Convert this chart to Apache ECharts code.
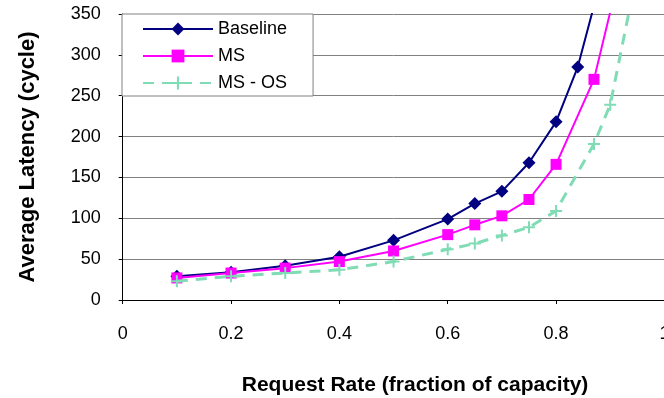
<!DOCTYPE html>
<html>
<head>
<meta charset="utf-8">
<script src="https://cdn.jsdelivr.net/npm/echarts@6/dist/echarts.min.js"></script>
<style>
  html, body { margin: 0; padding: 0; background: #fff; }
  #chart { width: 664px; height: 398px; }
</style>
</head>
<body>
<div id="chart"></div>
<script>
// request rate (fraction of capacity) and average latency (cycles)
const baselineX = [0.1, 0.2, 0.3, 0.4, 0.5, 0.6, 0.65, 0.7, 0.75, 0.8, 0.84, 0.88];
const baselineY = [29, 34, 42, 53, 73, 99, 118, 133, 168, 218, 285, 385];

const msX = [0.1, 0.2, 0.3, 0.4, 0.5, 0.6, 0.65, 0.7, 0.75, 0.8, 0.87, 0.91];
const msY = [27, 33, 39, 47, 60, 80, 92, 103, 123, 166, 270, 380];

const msosX = [0.1, 0.2, 0.3, 0.4, 0.5, 0.6, 0.65, 0.7, 0.75, 0.8, 0.87, 0.9, 0.94];
const msosY = [23, 29, 33, 37, 47, 62, 69, 79, 89, 109, 191, 239, 370];

const xTicks = [0, 0.2, 0.4, 0.6, 0.8, 1];
const yTicks = [0, 50, 100, 150, 200, 250, 300, 350];

const FONT = "'Liberation Sans', Arial, sans-serif";
const plusPath = 'path://M0,5H12V7H0Z M5,0H7V12H5Z';

const pairs = (xs, ys) => xs.map((x, i) => [x, ys[i]]);

const chart = echarts.init(document.getElementById('chart'));

const option = {
  animation: false,
  backgroundColor: '#fff',
  grid: { left: 122.7, right: -0.4, top: 14, bottom: 98, outerBoundsMode: 'none' },
  legend: {
    orient: 'vertical',
    left: 122,
    top: 14,
    padding: [6, 26, 4, 20],
    itemWidth: 70,
    itemHeight: 16,
    itemGap: 9,
    backgroundColor: '#fff',
    borderColor: '#808080',
    borderWidth: 1,
    textStyle: { fontFamily: FONT, fontSize: 18, color: '#000', lineHeight: 18 },
    data: ['Baseline', 'MS', 'MS - OS']
  },
  xAxis: {
    type: 'value',
    min: xTicks[0],
    max: xTicks[xTicks.length - 1],
    interval: 0.2,
    name: 'Request Rate (fraction of capacity)',
    nameLocation: 'middle',
    nameGap: 75,
    nameTextStyle: { fontFamily: FONT, fontSize: 21, fontWeight: 'bold', color: '#000', padding: [0, 0, 0, 43] },
    axisLine: { lineStyle: { color: '#000', width: 1 } },
    axisTick: { show: true, length: 4, lineStyle: { color: '#000' } },
    axisLabel: { fontFamily: FONT, fontSize: 18, color: '#000', margin: 25 },
    splitLine: { show: false }
  },
  yAxis: {
    type: 'value',
    min: yTicks[0],
    max: yTicks[yTicks.length - 1],
    interval: 50,
    name: 'Average Latency (cycle)',
    nameLocation: 'middle',
    nameRotate: 90,
    nameGap: 84,
    nameTextStyle: { fontFamily: FONT, fontSize: 22, fontWeight: 'bold', color: '#000' },
    axisLine: { show: true, lineStyle: { color: '#000', width: 1 } },
    axisTick: { show: true, length: 4, lineStyle: { color: '#000' } },
    axisLabel: { fontFamily: FONT, fontSize: 18, color: '#000', margin: 22 },
    splitLine: { show: true, lineStyle: { color: '#808080', width: 1 } }
  },
  series: [
    {
      name: 'Baseline',
      type: 'line',
      data: pairs(baselineX, baselineY),
      symbol: 'diamond',
      symbolSize: 13,
      color: '#000080',
      lineStyle: { color: '#000080', width: 2 },
      itemStyle: { color: '#000080' },
      z: 2
    },
    {
      name: 'MS',
      type: 'line',
      data: pairs(msX, msY),
      symbol: 'rect',
      symbolSize: 11,
      color: '#ff00ff',
      lineStyle: { color: '#ff00ff', width: 2 },
      itemStyle: { color: '#ff00ff' },
      z: 3
    },
    {
      name: 'MS - OS',
      type: 'line',
      data: pairs(msosX, msosY),
      symbol: plusPath,
      symbolSize: 12,
      color: '#80dcb4',
      lineStyle: { color: '#80dcb4', width: 3, type: [11, 8] },
      itemStyle: { color: '#80dcb4' },
      z: 4
    }
  ]
};

chart.setOption(option);
</script>
</body>
</html>
